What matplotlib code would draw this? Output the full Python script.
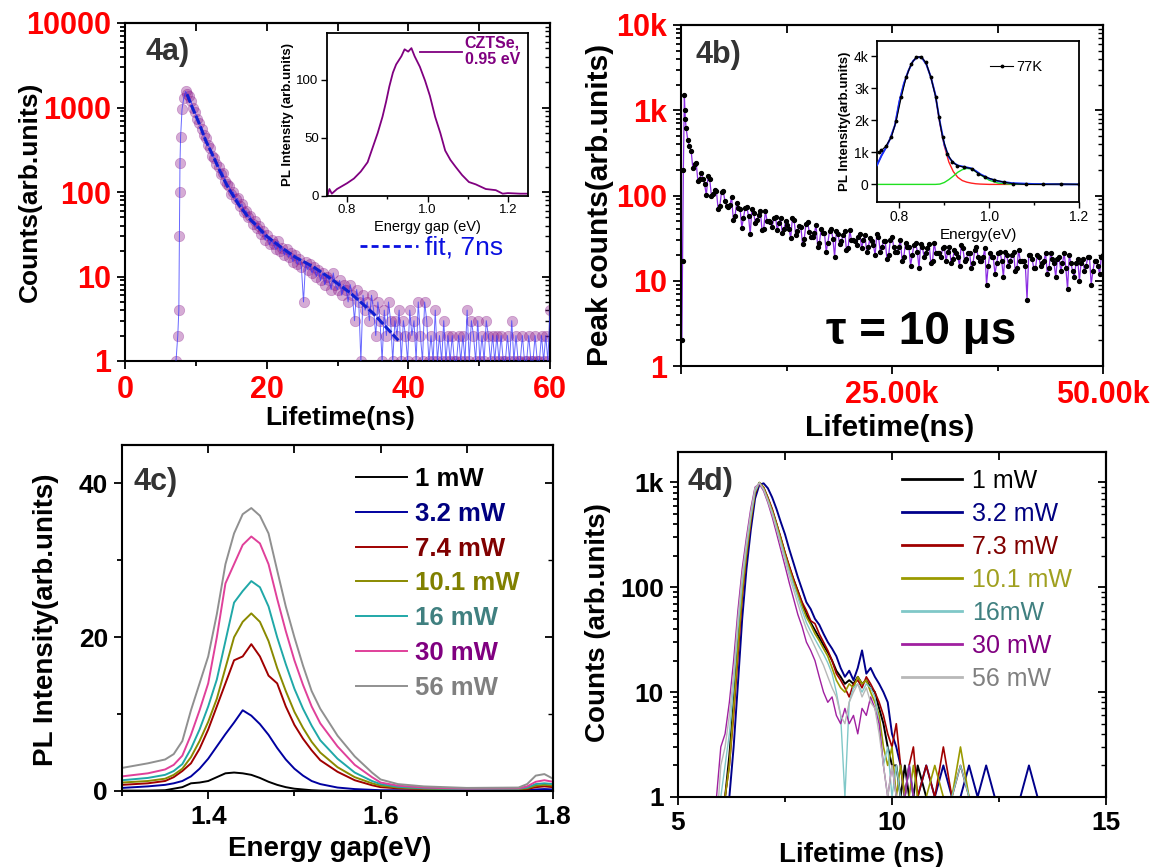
import numpy as np
import matplotlib
matplotlib.use("Agg")
import matplotlib.pyplot as plt
from matplotlib.ticker import FixedLocator, NullFormatter, LogLocator, FixedFormatter
from matplotlib.lines import Line2D

plt.rcParams['font.family'] = ['Liberation Sans', 'DejaVu Sans']

# ---------------- DATA ----------------
# Panel 4a : TRPL decay (ns, counts)
a_rise_t = [7.2, 7.45, 7.6, 7.68, 7.72, 7.76, 7.85, 8.05, 8.3, 8.55, 8.75]
a_rise_counts = [1, 2, 4, 30, 100, 220, 450, 950, 1300, 1550, 1450]
a_decay_t0, a_decay_dt = 9.0, 0.3
a_decay_counts = [
    1350, 1180, 1000, 880, 740, 650, 560, 470, 430, 360,
    330, 270, 255, 215, 200, 165, 170, 135, 125, 118,
    95, 100, 82, 84, 68, 72, 58, 60, 50, 52,
    42, 45, 37, 40, 32, 35, 27, 31, 24, 27,
    24, 21, 26, 20, 22, 18, 21, 17, 19, 15,
    18, 14, 16, 13, 5, 15, 12, 14, 11, 13,
    10, 12, 9, 11, 8, 10, 9, 7, 11, 8,
    7, 9, 6, 8, 7, 5, 8, 6, 3, 7,
    5, 1, 6, 4, 5, 3, 6, 4, 2, 5,
    3, 1, 4, 2, 5, 3, 1, 3, 2, 4,
    1, 3, 2, 1, 4, 2, 3, 1, 5, 2,
    1, 5, 3, 1, 2, 1, 4, 1, 2, 1,
    3, 1, 2, 1, 2, 1, 1, 2, 1, 2,
    1, 4, 1, 3, 2, 1, 3, 1, 2, 1,
    3, 2, 1, 2, 1, 2, 1, 2, 1, 1,
    2, 1, 3, 1, 2, 1, 1, 2, 1, 1,
    2, 1, 1, 2, 1, 1, 2, 1, 2, 1,
    4]
a_fit_t = [8.75, 9.5, 10.5, 11.4, 12.5, 13.5, 14.5, 16.0, 17.5, 18.7,
           20.0, 21.9, 24.0, 26.6, 29.0, 31.8, 35.0, 38.6]
a_fit_counts = [1435, 1000, 640, 405, 260, 170, 115, 72, 49, 39,
                30, 22.6, 17, 13, 9.5, 6.4, 3.7, 1.75]
a_yticks = [1, 10, 100, 1000, 10000]
a_yticklabels = ["1", "10", "100", "1000", "10000"]

# Inset of 4a : PL spectrum of CZTSe
ia_energy = [0.751, 0.756, 0.762, 0.775, 0.80, 0.817, 0.834, 0.851, 0.863, 0.876,
             0.888, 0.897, 0.905, 0.914, 0.922, 0.935, 0.943, 0.952, 0.96, 0.968,
             0.981, 0.994, 1.006, 1.019, 1.032, 1.044, 1.057, 1.07, 1.086, 1.103,
             1.12, 1.145, 1.17, 1.187, 1.20, 1.23, 1.25]
ia_pl = [0, 6, 2, 6, 11, 15, 21, 29, 41, 54,
         68, 81, 94, 106, 113, 120, 126, 124, 127, 120,
         111, 99, 86, 68, 54, 39, 31, 25, 18, 12,
         10, 6, 5, 2, 2.5, 2, 2]

# Panel 4b : long decay (ns, counts)
b_rise_t = [100, 180, 280, 400, 460, 520]
b_rise_counts = [2, 17, 200, 1500, 1000, 780]
b_tail_t0, b_tail_dt = 600, 400
b_tail_counts = [
    620, 380, 210, 240, 155, 158, 101, 156, 105, 112,
    76, 114, 76, 78, 52, 81, 70, 54, 74, 35,
    63, 52, 66, 41, 50, 49, 54, 39, 54, 40,
    45, 32, 51, 38, 43, 31, 49, 33, 36, 25,
    40, 36, 28, 40, 19, 35, 29, 38, 24, 30,
    29, 33, 24, 34, 25, 29, 20, 33, 25, 29,
    20, 33, 22, 25, 17, 28, 25, 20, 28, 14,
    25, 21, 27, 17, 21, 21, 24, 17, 25, 18,
    21, 15, 24, 18, 21, 16, 25, 17, 19, 9,
    21, 19, 16, 22, 11, 20, 17, 22, 14, 17,
    17, 6, 20, 14, 20, 15, 17, 12, 21, 16,
    18, 13, 21, 8, 16, 11, 18, 16, 13, 19,
    9, 17, 15, 19, 12]
b_mid_t0 = 800
b_mid_counts = [
    450, 336, 236, 148, 184, 135, 169, 100, 117, 69,
    109, 86, 73, 95, 58, 71, 42, 72, 57, 70,
    48, 59, 39, 66, 50, 43, 56, 48, 36, 50,
    40, 54, 34, 44, 27, 46, 37, 33, 45, 28,
    36, 22, 38, 31, 38, 27, 34, 23, 39, 30,
    26, 35, 30, 22, 32, 26, 35, 22, 29, 18,
    30, 25, 22, 30, 19, 25, 15, 26, 22, 27,
    19, 24, 16, 28, 21, 19, 25, 22, 16, 23,
    19, 26, 17, 21, 14, 23, 19, 17, 24, 15,
    19, 12, 21, 17, 22, 15, 20, 13, 23, 17,
    15, 20, 18, 14, 19, 16, 21, 14, 18, 11,
    19, 16, 14, 20, 13, 16, 10, 18, 15, 19,
    13, 17, 12, 20]
b_yticks = [1, 10, 100, 1000, 10000]
b_yticklabels = ["1", "10", "100", "1k", "10k"]
b_xticks = [0, 25000, 50000]
b_xticklabels = ["", "25.00k", "50.00k"]

# Inset of 4b : 77 K PL with two-peak fit
ib_energy = [0.754, 0.76, 0.77, 0.782, 0.793, 0.804, 0.815, 0.826, 0.837, 0.848,
             0.859, 0.87, 0.881, 0.888, 0.896, 0.907, 0.918, 0.929, 0.943, 0.962,
             0.976, 0.991, 1.01, 1.032, 1.054, 1.083, 1.12, 1.16, 1.2]
ib_data = [1000, 1060, 1200, 1475, 1995, 2720, 3345, 3760, 3970, 3990,
           3810, 3345, 2720, 2100, 1475, 955, 696, 590, 540, 490,
           330, 230, 145, 73, 20, 0, 0, 10, 0]
ib_fit_energy = [0.75, 0.76, 0.77, 0.78, 0.79, 0.80, 0.81, 0.82, 0.83, 0.84,
                 0.85, 0.86, 0.87, 0.88, 0.89, 0.90, 0.91, 0.92, 0.93, 0.94,
                 0.95, 0.96, 0.97, 0.98, 1.0, 1.02, 1.05, 1.1, 1.2]
ib_fit_total = [600, 900, 1150, 1450, 1850, 2600, 3150, 3550, 3850, 3980,
                3960, 3750, 3350, 2800, 1950, 1250, 850, 680, 590, 560,
                530, 500, 420, 320, 180, 100, 40, 10, 0]
ib_fit_peak1 = [600, 900, 1150, 1450, 1850, 2600, 3150, 3550, 3850, 3980,
                3960, 3750, 3350, 2800, 1900, 1200, 700, 400, 220, 120,
                70, 40, 20, 10, 0, 0, 0, 0, 0]
ib_fit_peak2 = [0, 0, 0, 0, 0, 0, 0, 0, 0, 0,
                0, 0, 0, 0, 10, 60, 150, 260, 380, 460,
                500, 480, 400, 300, 130, 40, 5, 0, 0]

# Panel 4c : power dependent PL
c_energy = [1.30, 1.33, 1.35, 1.36, 1.37, 1.38, 1.39, 1.40, 1.41, 1.42,
            1.43, 1.44, 1.45, 1.46, 1.47, 1.48, 1.49, 1.50, 1.51, 1.52,
            1.53, 1.55, 1.57, 1.59, 1.60, 1.62, 1.65, 1.70, 1.76, 1.77,
            1.78, 1.79, 1.80]
c_labels = ["1 mW", "3.2 mW", "7.4 mW", "10.1 mW", "16 mW", "30 mW", "56 mW"]
c_1mW = [0.05, 0.05, 0.1, 0.3, 0.5, 1.0, 1.1, 1.3, 1.8, 2.3,
         2.4, 2.3, 2.1, 1.7, 1.2, 0.8, 0.5, 0.3, 0.2, 0.1,
         0.05, 0.02, 0, 0, 0, 0, 0, 0, 0, 0,
         0.05, 0.05, 0.05]
c_3mW = [0.4, 0.6, 0.8, 1.0, 1.3, 1.9, 2.9, 4.2, 5.8, 7.4,
         8.9, 10.5, 9.8, 8.7, 7.3, 5.6, 4.1, 2.9, 2.0, 1.3,
         0.9, 0.45, 0.25, 0.15, 0.1, 0.1, 0.05, 0.05, 0.05, 0.1,
         0.2, 0.25, 0.2]
c_7mW = [0.8, 1.0, 1.3, 1.8, 2.6, 3.6, 5.5, 8.0, 11.0, 14.0,
         17.0, 17.5, 19.1, 17.5, 15.0, 14.0, 11.0, 8.6, 6.8, 5.3,
         4.0, 2.5, 1.4, 0.75, 0.5, 0.35, 0.25, 0.15, 0.2, 0.25,
         0.5, 0.6, 0.5]
c_10mW = [1.1, 1.3, 1.6, 2.1, 2.9, 4.4, 6.5, 9.0, 12.0, 16.0,
          20.0, 22.0, 23.1, 22.0, 19.5, 16.0, 13.0, 10.3, 8.2, 6.4,
          5.0, 3.1, 1.8, 1.0, 0.7, 0.45, 0.3, 0.2, 0.25, 0.35,
          0.7, 0.8, 0.7]
c_16mW = [1.4, 1.7, 2.1, 2.6, 3.5, 5.5, 8.0, 11.0, 14.5, 19.5,
          24.5, 26.0, 27.3, 26.5, 24.0, 20.0, 16.5, 13.3, 10.7, 8.5,
          6.6, 4.2, 2.4, 1.3, 0.9, 0.55, 0.35, 0.25, 0.3, 0.45,
          0.9, 1.0, 0.9]
c_30mW = [1.9, 2.3, 2.8, 3.4, 4.6, 7.3, 10.5, 14.0, 20.0, 27.0,
          29.5, 32.0, 33.1, 32.2, 29.5, 25.0, 20.8, 17.0, 13.8, 11.0,
          8.8, 5.8, 3.4, 1.8, 1.1, 0.7, 0.45, 0.3, 0.35, 0.6,
          1.2, 1.4, 1.2]
c_56mW = [3.0, 3.6, 4.1, 4.8, 6.5, 10.5, 14.0, 17.5, 23.0, 29.5,
          33.5, 36.0, 36.8, 35.8, 33.5, 28.7, 24.0, 20.0, 16.3, 13.0,
          10.7, 7.2, 4.5, 2.4, 1.5, 0.9, 0.6, 0.4, 0.45, 0.9,
          2.0, 2.2, 1.6]

# Panel 4d : power dependent TRPL (ns, counts)
d_time = [5.9, 6.0, 6.1, 6.2, 6.3, 6.4, 6.5, 6.6, 6.7, 6.8,
          6.9, 7.0, 7.1, 7.2, 7.3, 7.4, 7.5, 7.6, 7.7, 7.8,
          7.9, 8.0, 8.1, 8.2, 8.3, 8.4, 8.5, 8.6, 8.7, 8.8,
          8.9, 9.0, 9.1, 9.2, 9.3, 9.4, 9.5, 9.6, 9.7, 9.8,
          9.9, 10.0, 10.1, 10.2, 10.3, 10.4, 10.5, 10.6,
          10.8, 11.0, 11.2, 11.4, 11.6, 11.8, 12.0, 12.2, 12.4, 12.6, 12.8, 13.0, 13.2, 13.4]
d_labels = ["1 mW", "3.2 mW", "7.3 mW", "10.1 mW", "16mW", "30 mW", "56 mW"]
d_1mW = [0.5, 0.5, 1, 2.5, 8, 30, 95, 220, 430, 800,
         990, 880, 700, 540, 400, 290, 210, 155, 118, 92,
         70, 55, 46, 39, 33, 28, 24, 20, 16, 14,
         12, 13, 12, 14, 12, 13, 11, 10, 7, 5,
         3, 2, 2, 1, 2, 1, 1, 2,
         1, 1, 1, 1, 1, 1, 1, 1, 1, 1, 1, 1, 1, 1]
d_3mW = [0.5, 0.5, 0.5, 1, 3, 12, 50, 150, 350, 700,
         950, 980, 880, 720, 560, 420, 320, 230, 170, 125,
         95, 72, 62, 50, 44, 36, 30, 26, 22, 17,
         14, 16, 13, 17, 25, 15, 17, 14, 12, 10,
         8, 4, 3, 2, 1, 2, 1, 1,
         2, 1, 2, 1, 1, 2, 1, 2, 1, 1, 1, 1, 2, 1]
d_7mW = [0.5, 0.5, 1, 2, 6, 22, 80, 200, 420, 780,
         990, 900, 720, 560, 410, 300, 215, 160, 120, 92,
         72, 60, 48, 45, 36, 30, 25, 20, 15, 13,
         11, 9, 12, 13, 11, 14, 12, 10, 8, 6,
         4, 3, 5, 2, 1, 2, 3, 1,
         2, 1, 3, 1, 2, 1, 1, 1, 1, 1, 1, 1, 1, 1]
d_10mW = [0.5, 0.5, 1, 2, 7, 26, 90, 210, 440, 800,
          1000, 890, 700, 540, 400, 290, 205, 150, 112, 86,
          66, 52, 44, 36, 31, 26, 22, 17, 13, 11,
          10, 12, 11, 14, 12, 13, 10, 8, 6, 3,
          2, 3, 1, 2, 1, 1, 2, 1,
          1, 2, 1, 1, 3, 1, 1, 1, 1, 1, 1, 1, 1, 1]
d_16mW = [0.5, 1, 2, 4, 12, 40, 110, 240, 470, 820,
          990, 860, 680, 520, 380, 270, 195, 140, 105, 80,
          60, 46, 38, 32, 27, 23, 19, 15, 10, 6,
          1, 8, 11, 12, 10, 12, 11, 9, 5, 2,
          3, 1, 2, 1, 1, 2, 1, 1,
          1, 1, 1, 1, 2, 1, 1, 1, 1, 1, 1, 1, 1, 1]
d_30mW = [1, 3, 4, 8, 20, 60, 150, 300, 560, 900,
          970, 830, 640, 470, 330, 230, 160, 110, 78, 55,
          42, 30, 25, 20, 14, 10, 8, 9, 6, 5,
          7, 5, 6, 4, 7, 6, 9, 7, 5, 2,
          1, 2, 1, 1, 1, 2, 1, 1,
          1, 1, 1, 1, 1, 1, 1, 1, 1, 1, 1, 1, 1, 1]
d_56mW = [0.5, 2, 3, 6, 15, 50, 130, 270, 520, 880,
          990, 850, 660, 500, 360, 255, 180, 128, 95, 70,
          52, 40, 33, 27, 22, 18, 14, 11, 9, 6,
          5, 8, 10, 12, 9, 11, 8, 7, 4, 2,
          1, 2, 1, 1, 1, 1, 1, 1,
          1, 1, 1, 1, 1, 1, 1, 1, 1, 1, 1, 1, 1, 1]
d_yticks = [1, 10, 100, 1000]
d_yticklabels = ["1", "10", "100", "1k"]

# ---------------- FIGURE ----------------
W, H = 1155, 867
fig = plt.figure(figsize=(W / 100, H / 100), dpi=100)


def rect(l, t, r, b):
    return [l / W, 1 - b / H, (r - l) / W, (b - t) / H]


def fpos(x, y):
    return (x / W, 1 - y / H)


RED = '#ff0000'


def style_main(ax, xmaj, xmin, ymaj, ymin, ylog, labelcolor, weight, tsize):
    for s in ax.spines.values():
        s.set_linewidth(1.5)
    ax.tick_params(which='both', direction='out', top=False, right=False,
                   width=1.3, labelcolor=labelcolor, labelsize=tsize)
    ax.tick_params(which='major', length=6, pad=4)
    ax.tick_params(which='minor', length=3.5)
    ax.xaxis.set_major_locator(FixedLocator(xmaj))
    ax.xaxis.set_minor_locator(FixedLocator(xmin))
    ax.yaxis.set_major_locator(FixedLocator(ymaj))
    if ylog:
        ax.yaxis.set_minor_locator(LogLocator(base=10, subs=np.arange(2, 10) * 1.0, numticks=30))
        ax.yaxis.set_minor_formatter(NullFormatter())
    else:
        ax.yaxis.set_minor_locator(FixedLocator(ymin))
    # mirrored inward ticks on top and right
    sx = ax.secondary_xaxis('top')
    sx.xaxis.set_major_locator(FixedLocator(sorted(list(xmaj) + list(xmin))))
    sx.xaxis.set_minor_locator(FixedLocator([]))
    sx.tick_params(which='both', direction='in', length=6, width=1.3, labeltop=False)
    sy = ax.secondary_yaxis('right')
    sy.yaxis.set_major_locator(FixedLocator(ymaj))
    if ylog:
        sy.yaxis.set_minor_locator(LogLocator(base=10, subs=np.arange(2, 10) * 1.0, numticks=30))
    else:
        sy.yaxis.set_minor_locator(FixedLocator(ymin))
    sy.yaxis.set_minor_formatter(NullFormatter())
    sy.tick_params(which='major', direction='in', length=6, width=1.3, labelright=False)
    sy.tick_params(which='minor', direction='in', length=3.5, width=1.0, labelright=False)
    for sec in (sx, sy):
        for s in sec.spines.values():
            s.set_linewidth(1.5)


def bold_ticks(ax, weight='bold'):
    for lab in ax.get_xticklabels() + ax.get_yticklabels():
        lab.set_fontweight(weight)


def place_labels(ax, xlabel, xpos, ylabel, ypos, size, weight):
    ax.set_xlabel(xlabel, fontsize=size, fontweight=weight)
    ax.set_ylabel(ylabel, fontsize=size, fontweight=weight)
    ax.xaxis.set_label_coords(*fpos(*xpos), transform=fig.transFigure)
    ax.yaxis.set_label_coords(*fpos(*ypos), transform=fig.transFigure)
    ax.xaxis.label.set_va('center')
    ax.yaxis.label.set_va('center')


# ----- Panel 4a -----
axa = fig.add_axes(rect(125, 23, 550, 361))
a_t = list(a_rise_t) + list(a_decay_t0 + a_decay_dt * np.arange(len(a_decay_counts)))
a_c = list(a_rise_counts) + list(a_decay_counts)
axa.plot(a_t, a_c, 'o', ms=7.5, color='#8b1a8b', alpha=0.36, mec='#8b1a8b', mew=0.5, zorder=2)
axa.plot(a_t, a_c, '-', lw=0.7, color='#3535ff', alpha=0.75, zorder=3)
axa.plot(a_fit_t, a_fit_counts, color='#1020d0', lw=2.2, ls=(0, (3, 0.8)), zorder=4)
axa.set_yscale('log')
axa.set_xlim(0, 60)
axa.set_ylim(1, 10000)
style_main(axa, [0, 20, 40, 60], [10, 30, 50], a_yticks, None, True, RED, 'bold', 22)
axa.yaxis.set_major_formatter(FixedFormatter(a_yticklabels))
bold_ticks(axa)
place_labels(axa, 'Lifetime(ns)', (340, 418), 'Counts(arb.units)', (30, 192), 19, 'bold')
fig.text(*fpos(145, 52), '4a)', fontsize=22, fontweight='bold', color='#333333', va='center', ha='left')
leg = axa.legend([Line2D([], [], color='#0a10e0', lw=2, ls=(0, (2.5, 1.5)))], ['fit, 7ns'],
                 loc='upper left', bbox_to_anchor=((360 - 125) / 425, (361 - 236) / 338),
                 frameon=False, fontsize=19, handlelength=2.2, handletextpad=0.25,
                 borderpad=0, borderaxespad=0)
for t in leg.get_texts():
    t.set_color('#0a10e0')

# inset 4a
ia = fig.add_axes(rect(327, 33, 528, 196))
ia.plot(ia_energy, ia_pl, color='#800080', lw=1.3, label='CZTSe,\n0.95 eV')
ia.set_xlim(0.75, 1.25)
ia.set_ylim(0, 140)
ia.xaxis.set_major_locator(FixedLocator([0.8, 1.0, 1.2]))
ia.xaxis.set_minor_locator(FixedLocator([0.9, 1.1]))
ia.yaxis.set_major_locator(FixedLocator([0, 50, 100]))
ia.set_xticklabels(['0.8', '1.0', '1.2'])
ia.tick_params(which='both', labelsize=9.5, width=1.0, pad=2)
ia.tick_params(which='major', length=4)
ia.tick_params(which='minor', length=2.5)
for s in ia.spines.values():
    s.set_linewidth(1.3)
ia.set_xlabel('Energy gap (eV)', fontsize=10.5, labelpad=3)
ia.set_ylabel('PL Intensity (arb.units)', fontsize=9.5, fontweight='bold', labelpad=2)
lg = ia.legend(loc='upper left', bbox_to_anchor=((420 - 327) / 201, (196 - 35) / 163),
               frameon=False, prop={'weight': 'bold', 'size': 11.5}, handlelength=2.6,
               handletextpad=0.2, borderpad=0, borderaxespad=0)
for t in lg.get_texts():
    t.set_color('#800080')

# ----- Panel 4b -----
axb = fig.add_axes(rect(681, 25, 1103, 366))
b_t = np.array(list(b_rise_t)
               + list(b_tail_t0 + b_tail_dt * np.arange(len(b_tail_counts)))
               + list(b_mid_t0 + b_tail_dt * np.arange(len(b_mid_counts))))
b_c = np.array(list(b_rise_counts) + list(b_tail_counts) + list(b_mid_counts))
order = np.argsort(b_t, kind='stable')
axb.plot(b_t[order], b_c[order], '-', lw=0.9, color='#8a2be2', zorder=2)
axb.plot(b_t[order], b_c[order], 'o', ms=2.8, color='black', zorder=3)
axb.set_yscale('log')
axb.set_xlim(0, 50000)
axb.set_ylim(1, 10000)
style_main(axb, b_xticks, [12500, 37500], b_yticks, None, True, RED, 'bold', 22)
axb.xaxis.set_major_formatter(FixedFormatter(b_xticklabels))
axb.yaxis.set_major_formatter(FixedFormatter(b_yticklabels))
bold_ticks(axb)
place_labels(axb, 'Lifetime(ns)', (890, 428), 'Peak counts(arb.units)', (600, 205), 21.5, 'bold')
fig.text(*fpos(695, 55), '4b)', fontsize=22, fontweight='bold', color='#333333', va='center', ha='left')
fig.text(*fpos(921, 332), '\u03c4 = 10 \u03bcs', fontsize=33, fontweight='bold', color='black',
         va='center', ha='center')

# inset 4b
ib = fig.add_axes(rect(877, 41, 1079, 202))
ib.plot(ib_fit_energy, ib_fit_peak1, color='#ff2020', lw=1.0, zorder=2)
ib.plot(ib_fit_energy, ib_fit_peak2, color='#20e020', lw=1.0, zorder=2)
ib.plot(ib_fit_energy, ib_fit_total, color='#1030ff', lw=1.4, zorder=3)
ib.plot(ib_energy, ib_data, '-', marker='.', ms=3.5, lw=0.8, color='black', zorder=4, label='77K')
ib.set_xlim(0.75, 1.2)
ib.set_ylim(-550, 4480)
ib.xaxis.set_major_locator(FixedLocator([0.8, 1.0, 1.2]))
ib.xaxis.set_minor_locator(FixedLocator([0.9, 1.1]))
ib.yaxis.set_major_locator(FixedLocator([0, 1000, 2000, 3000, 4000]))
ib.set_xticklabels(['0.8', '1.0', '1.2'])
ib.set_yticklabels(['0', '1k', '2k', '3k', '4k'])
ib.tick_params(which='both', labelsize=10, width=1.0, pad=2)
ib.tick_params(which='major', length=4)
ib.tick_params(which='minor', length=2.5)
for s in ib.spines.values():
    s.set_linewidth(1.3)
ib.set_xlabel('Energy(eV)', fontsize=11, labelpad=3)
ib.set_ylabel('PL Intensity(arb.units)', fontsize=9.5, fontweight='bold', labelpad=2)
ib.legend(loc='upper left', bbox_to_anchor=((990 - 877) / 202, (202 - 60) / 161),
          frameon=False, fontsize=10.5, handlelength=1.6, handletextpad=0.2,
          borderpad=0, borderaxespad=0)

# ----- Panel 4c -----
axc = fig.add_axes(rect(122, 445, 553, 791))
c_series = [c_1mW, c_3mW, c_7mW, c_10mW, c_16mW, c_30mW, c_56mW]
c_line_colors = ['#000000', '#0000a0', '#a00000', '#8a8a00', '#20a8a8', '#e0409a', '#909090']
c_text_colors = ['#000000', '#000080', '#800000', '#808000', '#408080', '#800080', '#808080']
for ys, col, lab in zip(c_series, c_line_colors, c_labels):
    axc.plot(c_energy, ys, color=col, lw=1.4, label=lab)
axc.set_xlim(1.3, 1.8)
axc.set_ylim(0, 45)
style_main(axc, [1.4, 1.6, 1.8], [1.3, 1.5, 1.7], [0, 20, 40], [10, 30], False, 'black', 'bold', 19)
axc.set_xticklabels(['1.4', '1.6', '1.8'])
bold_ticks(axc)
place_labels(axc, 'Energy gap(eV)', (330, 849), 'PL Intensity(arb.units)', (46, 620), 20, 'bold')
fig.text(*fpos(133, 482), '4c)', fontsize=22, fontweight='bold', color='#333333', va='center', ha='left')
lc = axc.legend(loc='upper left', bbox_to_anchor=((356 - 122) / 431, 1 - (467 - 445) / 346),
                frameon=False, prop={'weight': 'bold', 'size': 18.5}, handlelength=2.0,
                handletextpad=0.3, labelspacing=0.42, borderpad=0, borderaxespad=0)
for t, col in zip(lc.get_texts(), c_text_colors):
    t.set_color(col)

# ----- Panel 4d -----
axd = fig.add_axes(rect(678, 452, 1106, 797))
d_series = [d_1mW, d_3mW, d_7mW, d_10mW, d_16mW, d_30mW, d_56mW]
d_line_colors = ['#000000', '#00008b', '#a00000', '#9a9a00', '#80c8c8', '#a020a0', '#b8b8b8']
d_widths = [1.4, 1.4, 1.2, 1.2, 1.0, 1.0, 1.0]
d_text_colors = ['#000000', '#000080', '#800000', '#a0a020', '#408080', '#800080', '#808080']
for ys, col, lw, lab in zip(d_series, d_line_colors, d_widths, d_labels):
    axd.plot(d_time, ys, color=col, lw=lw, label=lab)
axd.set_yscale('log')
axd.set_xlim(5, 15)
axd.set_ylim(1, 1950)
style_main(axd, [5, 10, 15], [7.5, 12.5], d_yticks, None, True, 'black', 'bold', 19)
axd.xaxis.set_major_formatter(FixedFormatter(['5', '10', '15']))
axd.yaxis.set_major_formatter(FixedFormatter(d_yticklabels))
bold_ticks(axd)
place_labels(axd, 'Lifetime (ns)', (862, 855), 'Counts (arb.units)', (598, 623), 20, 'bold')
fig.text(*fpos(687, 482), '4d)', fontsize=22, fontweight='bold', color='#333333', va='center', ha='left')
ld = axd.legend(loc='upper left', bbox_to_anchor=((902 - 678) / 428, 1 - (469 - 452) / 345),
                frameon=False, fontsize=18, handlelength=2.4, handletextpad=0.4,
                labelspacing=0.36, borderpad=0, borderaxespad=0)
for t, col in zip(ld.get_texts(), d_text_colors):
    t.set_color(col)
for h in ld.legend_handles:
    h.set_linewidth(2.0)

fig.savefig('out.png', dpi=100, facecolor='white')
